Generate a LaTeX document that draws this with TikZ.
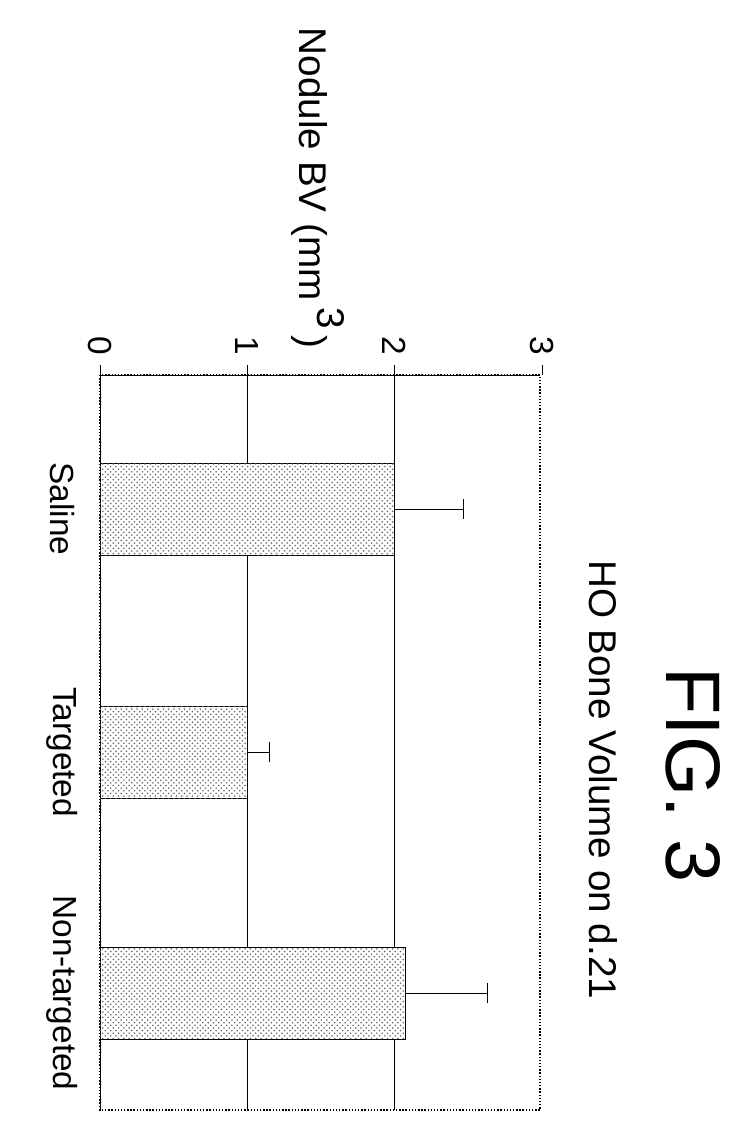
\documentclass[tikz,border=0pt]{standalone}
\usepackage{fontspec}
\setmainfont{Liberation Sans}
\usetikzlibrary{patterns}
\def\xz{100}  % value 0
\def\ux{147.3} % px per unit
\def\vx#1{{\xz+(#1)*\ux}}
\tikzset{lab/.style={rotate=-90, font=\fontsize{19}{22}\selectfont},
  bar/.style={draw, fill=white, postaction={pattern=crosshatch dots, pattern color=black!60}}}
\begin{document}
\begin{tikzpicture}[x=0.02cm, y=-0.02cm]
\useasboundingbox (0,0) rectangle (753,1136);
% Frame and grid
\draw[densely dotted, thick] (100,375) rectangle (540,1110);
\foreach \g in {1,2} \draw (\vx{\g},375) -- (\vx{\g},1110);
\draw (100,375) -- (100,1110);
\draw (100,375) -- (540,375);
% Ticks and labels
\foreach \g in {0,1,2,3} {
  \draw (\vx{\g},375) -- (\vx{\g},365);
  \node[lab] (t\g) at (\vx{\g},346) {\g};
}
\node[lab, font=\fontsize{22}{26}\selectfont] (ytitle) at (318,188) {Nodule BV (mm\,\raisebox{0.45em}{3}\,)};
% Bars: name/centre/value/error
\foreach \n/\c/\val/\err in {Saline/509/2/0.47, Targeted/752/1/0.15, Non-targeted/993/2.07/0.56} {
  \draw[bar] (\xz,\c-46) rectangle (\vx{\val},\c+46);
  \coordinate (e\c) at (\vx{\val},\c);
  \coordinate (f\c) at (\vx{\val+\err},\c);
  \draw (e\c) -- (f\c);
  \draw (f\c) ++(0,-10) -- ++(0,20);
  \node[lab] (c\c) at (62,\c) {\n};
}
% Titles
\node[lab, font=\fontsize{22}{26}\selectfont] (title) at (603,780) {HO Bone Volume on d.21};
\node[lab, font=\fontsize{44}{50}\selectfont] (fig) at (693,775) {FIG. 3};
\end{tikzpicture}
\end{document}
